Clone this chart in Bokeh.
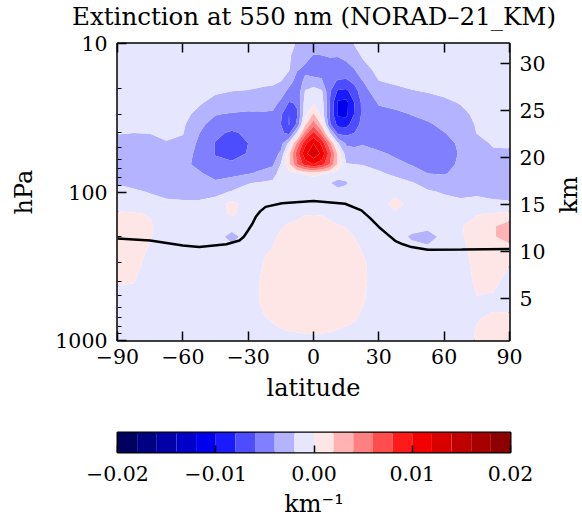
import math
import numpy as np
from bokeh.plotting import figure
from bokeh.models import Range1d, LinearScale, LinearAxis, FixedTicker, PrintfTickFormatter
from bokeh.core.properties import value
from bokeh.layouts import column, row
from bokeh.embed import file_html
from bokeh.resources import INLINE

# ---------------- data ----------------
lat = [-90, -82.5, -75, -67.5, -60, -52.5, -45, -37.5, -30, -22.5, -18.75, -15, -11.25,
       -7.5, -3.75, 0, 3.75, 7.5, 11.25, 15, 18.75, 22.5, 30, 37.5, 45, 52.5, 60, 67.5,
       75, 82.5, 90]
plev = [10, 12, 15, 18, 21, 25, 30, 35, 40, 47, 55, 65, 75, 87, 100, 120, 140, 170, 200,
        250, 300, 400, 550, 700, 850, 1000]

# extinction anomaly profiles (1e-3 km^-1), one list per latitude, top (10 hPa) to bottom (1000 hPa)
ext_profiles = [
    [-1.0, -1.0, -1.0, -1.1, -1.2, -1.3, -1.5, -1.8, -1.9, -2.6, -3.0, -3.1, -2.8, -2.1, -1.5, -0.6, 0.2, 0.6, 0.7, 0.6, 0.5, 0.1, -0.5, -0.7, -0.8, -0.8],
    [-1.0, -1.0, -1.0, -1.1, -1.2, -1.3, -1.5, -1.8, -2.0, -2.7, -3.1, -3.2, -3.0, -2.5, -1.7, -0.7, 0.1, 0.6, 0.7, 0.6, 0.4, 0.05, -0.5, -0.7, -0.8, -0.8],
    [-1.0, -1.0, -1.0, -1.1, -1.2, -1.3, -1.5, -1.8, -1.95, -2.6, -3.1, -3.3, -3.2, -2.8, -2.1, -1.2, -0.1, 0.2, 0.1, -0.2, -0.4, -0.6, -0.7, -0.8, -0.8, -0.8],
    [-1.0, -1.0, -1.0, -1.1, -1.2, -1.3, -1.5, -1.7, -1.85, -2.05, -2.8, -3.3, -3.3, -3.0, -2.5, -1.6, -1.0, -0.8, -0.8, -0.8, -0.8, -0.8, -0.8, -0.8, -0.8, -0.8],
    [-1.0, -1.0, -1.0, -1.1, -1.2, -1.3, -1.5, -1.7, -1.9, -2.4, -3.0, -3.6, -3.6, -3.3, -2.6, -1.7, -1.1, -0.9, -0.8, -0.8, -0.8, -0.8, -0.8, -0.8, -0.8, -0.8],
    [-1.0, -1.0, -1.0, -1.1, -1.3, -1.8, -2.5, -3.5, -3.95, -4.4, -4.6, -4.4, -3.8, -3.2, -2.6, -1.7, -1.1, -0.9, -0.9, -0.8, -0.8, -0.8, -0.8, -0.8, -0.8, -0.8],
    [-1.0, -1.0, -1.1, -1.4, -1.8, -2.5, -3.9, -4.8, -5.6, -6.1, -6.1, -5.6, -4.6, -3.7, -2.6, -1.0, -0.9, -1.0, -1.0, -0.9, -0.8, -0.8, -0.8, -0.8, -0.8, -0.8],
    [-1.0, -1.0, -1.2, -1.6, -2.0, -2.8, -4.2, -5.2, -6.3, -7.3, -7.2, -5.4, -4.5, -3.1, -1.8, 0.6, 0.3, -1.2, -2.8, -1.0, -0.9, -0.8, -0.8, -0.8, -0.8, -0.8],
    [-1.0, -1.1, -1.3, -1.7, -2.05, -3.0, -4.4, -5.0, -5.6, -6.0, -5.8, -5.0, -4.1, -2.1, -1.2, -0.9, -0.9, -1.0, -1.0, -0.9, -0.8, -0.7, -0.7, -0.7, -0.7, -0.7],
    [-1.0, -1.1, -1.3, -1.8, -2.2, -3.1, -4.3, -4.8, -5.1, -5.2, -4.9, -4.4, -3.6, -1.7, -1.1, -0.9, -0.8, -0.6, -0.4, -0.15, 0.1, 0.3, 0.3, -0.05, -0.4, -0.6],
    [-1.0, -1.1, -1.3, -1.8, -2.3, -3.2, -4.4, -4.9, -5.2, -5.3, -5.0, -4.3, -3.0, -1.5, -0.9, -0.7, -0.6, -0.4, -0.2, 0.1, 0.4, 0.6, 0.5, 0.15, -0.2, -0.4],
    [-1.0, -1.1, -1.4, -2.0, -3.0, -4.4, -5.7, -6.0, -5.6, -4.8, -3.6, -1.9, -1.0, -0.8, -0.7, -0.6, -0.4, -0.1, 0.2, 0.5, 0.7, 0.8, 0.7, 0.35, -0.05, -0.3],
    [-1.3, -1.6, -1.85, -3.2, -4.6, -6.1, -8.0, -8.1, -6.6, -1.5, 1.5, 1.5, -0.6, -0.9, -0.8, -0.6, -0.4, 0.15, 0.5, 0.8, 0.9, 1.0, 0.9, 0.5, 0.05, -0.4],
    [-2.2, -3.2, -3.9, -4.8, -5.4, -5.9, -6.1, -5.6, -1.5, 4.5, 7.0, 6.0, -0.3, -1.0, -0.8, -0.6, -0.3, 0.3, 0.7, 0.9, 1.0, 1.1, 1.0, 0.8, 0.1, -0.35],
    [-2.5, -3.6, -4.3, -3.6, -1.8, -1.0, -0.6, 1.5, 5.0, 9.5, 11.5, 9.0, 0.2, -1.0, -0.8, -0.6, -0.05, 0.5, 1.0, 1.1, 1.2, 1.2, 1.1, 0.9, 0.15, -0.3],
    [-3.2, -4.05, -4.4, -3.7, -0.6, -0.3, 2.2, 5.2, 8.5, 12.0, 13.5, 10.0, 0.5, -1.0, -0.7, -0.5, -0.1, 0.5, 1.1, 1.2, 1.3, 1.3, 1.2, 0.8, 0.2, -0.3],
    [-3.0, -4.0, -4.5, -3.8, -1.7, -1.0, -0.6, 1.5, 5.0, 9.5, 11.5, 9.0, 0.2, -1.2, -0.9, -0.6, -0.05, 0.5, 0.9, 1.1, 1.2, 1.2, 1.1, 0.8, 0.15, -0.3],
    [-2.8, -3.9, -4.6, -5.4, -5.8, -6.0, -6.1, -5.8, -1.8, 4.5, 7.0, 6.0, -0.3, -1.9, -1.1, -0.7, -0.3, 0.3, 0.7, 0.9, 1.0, 1.1, 1.0, 0.7, 0.1, -0.35],
    [-2.8, -3.9, -4.8, -6.2, -8.3, -10.4, -10.4, -8.6, -6.5, -1.8, 1.5, 1.5, -0.9, -2.7, -1.3, -0.8, -0.5, 0.1, 0.5, 0.8, 0.9, 1.0, 0.9, 0.5, -0.05, -0.4],
    [-2.3, -3.5, -4.8, -6.4, -8.5, -10.6, -10.5, -8.7, -6.6, -4.3, -3.0, -1.9, -1.2, -2.2, -1.2, -0.9, -0.6, -0.05, 0.35, 0.6, 0.75, 0.8, 0.7, 0.35, -0.15, -0.5],
    [-1.9, -2.6, -4.1, -5.6, -6.9, -8.0, -7.9, -7.0, -6.0, -4.4, -3.3, -2.0, -1.3, -1.2, -1.0, -0.9, -0.7, -0.3, 0.0, 0.45, 0.6, 0.6, 0.5, 0.15, -0.3, -0.6],
    [-1.3, -1.8, -2.7, -4.1, -4.9, -5.5, -5.6, -5.4, -5.1, -4.1, -3.5, -2.05, -1.4, -1.1, -1.0, -0.9, -0.8, -0.6, -0.4, -0.05, 0.2, 0.25, 0.1, -0.2, -0.5, -0.7],
    [-1.0, -1.1, -1.5, -2.05, -2.8, -3.8, -4.7, -5.1, -5.2, -4.7, -3.7, -2.6, -1.7, -1.2, -1.0, -0.9, -0.9, -0.9, -0.8, -0.7, -0.6, -0.6, -0.6, -0.7, -0.8, -0.9],
    [-1.0, -1.0, -1.3, -1.8, -2.4, -3.5, -4.4, -4.9, -5.1, -4.9, -4.3, -3.5, -2.4, -1.2, -0.5, 0.7, -0.3, -0.9, -1.0, -0.9, -0.8, -0.7, -0.7, -0.8, -0.8, -0.9],
    [-1.0, -1.0, -1.2, -1.6, -2.1, -3.1, -3.95, -4.6, -4.9, -4.9, -4.6, -4.1, -3.1, -1.8, -1.1, -0.6, -0.9, -1.3, -2.3, -1.0, -0.8, -0.7, -0.7, -0.8, -0.8, -0.9],
    [-1.0, -1.0, -1.1, -1.5, -1.9, -2.8, -3.6, -4.2, -4.6, -4.8, -4.8, -4.5, -4.0, -2.8, -1.7, -1.0, -1.0, -1.5, -2.8, -1.3, -0.9, -0.8, -0.8, -0.8, -0.8, -0.8],
    [-1.0, -1.0, -1.1, -1.4, -1.7, -2.3, -3.0, -3.6, -4.05, -4.4, -4.5, -4.4, -4.1, -3.3, -2.2, -1.2, -1.0, -1.1, -1.4, -1.0, -0.9, -0.8, -0.8, -0.8, -0.8, -0.8],
    [-1.0, -1.0, -1.0, -1.2, -1.5, -1.9, -2.5, -3.1, -3.5, -3.8, -3.9, -3.8, -3.6, -3.1, -2.5, -1.5, -0.6, -0.1, -0.2, -0.4, -0.5, -0.6, -0.7, -0.8, -0.8, -0.8],
    [-1.0, -1.0, -1.0, -1.1, -1.2, -1.4, -1.6, -1.8, -1.95, -2.6, -3.0, -3.1, -3.0, -2.7, -2.4, -1.2, -0.1, 0.6, 0.7, 0.5, 0.4, 0.2, -0.1, -0.1, 0.1, 0.15],
    [-1.0, -1.0, -1.0, -1.0, -1.1, -1.2, -1.3, -1.5, -1.6, -1.8, -2.3, -2.8, -3.0, -2.9, -2.6, -1.6, 0.1, 1.8, 1.8, 0.7, 0.5, 0.3, -0.3, 0.2, 0.5, 0.5],
    [-1.0, -1.0, -1.0, -1.0, -1.1, -1.2, -1.3, -1.5, -1.6, -1.8, -2.2, -2.7, -2.9, -2.8, -2.5, -1.8, 0.6, 3.0, 2.9, 0.8, 0.05, -0.4, -0.4, 0.2, 0.6, 0.7],
]

# tropopause (black line)
trop_lat = [-90, -75, -60, -52.5, -40, -34, -32, -30, -28, -26.5, -24.5, -22, -14.5, 0, 14.5,
            22, 26, 30, 34, 37.5, 41, 45, 52.5, 68, 90]
trop_p = [206, 212, 229, 235, 225, 212, 200, 181, 163, 147, 135, 126, 119, 115, 120,
          133, 150, 172, 193, 213, 225, 235, 245, 244, 242]

# contour levels (1e-3 km^-1) and colours (seismic, 20 bins)
levels = list(range(-20, 21, 2))
palette = ["#00005e", "#000082", "#0000a6", "#0000c9", "#0000ed",
           "#1a1aff", "#4d4dff", "#8080ff", "#b3b3ff", "#e6e6ff",
           "#ffe6e6", "#ffb3b3", "#ff8080", "#ff4d4d", "#ff1a1a",
           "#f20000", "#d90000", "#bf0000", "#a60000", "#8c0000"]

lat_ticks = [-90, -60, -30, 0, 30, 60, 90]
lat_labels = ["−90", "−60", "−30", "0", "30", "60", "90"]
p_ticks = [10, 100, 1000]
p_minor = [20, 30, 40, 50, 60, 70, 80, 90, 200, 300, 400, 500, 600, 700, 800, 900]
km_ticks = [5, 10, 15, 20, 25, 30]
km_range = (0.54, 32.1)
cb_ticks = [-20, -10, 0, 10, 20]
cb_labels = ["−0.02", "−0.01", "0.00", "0.01", "0.02"]
title_text = "Extinction at 550 nm (NORAD–21_KM)"

FONT = "DejaVu Serif"
TICK_FS = "20.5px"
LABEL_FS = "24px"

# ---------------- title strip (its frame is aligned with the main frame) ----------------
tf = figure(width=582, height=30, title=title_text, output_backend="svg",
            toolbar_location=None, x_axis_location=None, y_axis_location=None, min_border=0)
tf.title.text_font = FONT
tf.title.text_font_size = "24.5px"
tf.title.text_font_style = "normal"
tf.title.text_color = "black"
tf.title.align = "center"
tf.title.standoff = 0
tf.grid.visible = False
tf.outline_line_color = None
tf.background_fill_color = None
tf.border_fill_color = None

# ---------------- main figure ----------------
p = figure(width=548, height=385, x_range=Range1d(-90, 90), y_range=Range1d(1000, 10),
           y_axis_type="log", output_backend="svg", toolbar_location=None,
           min_border_left=117, min_border_right=38, min_border_top=13, min_border_bottom=75)
p.grid.visible = False
p.outline_line_color = "black"
p.outline_line_width = 2.5
p.background_fill_color = "white"

Z = np.array(ext_profiles).T
p.contour(lat, plev, Z, levels, fill_color=palette, line_color=None)
p.line(trop_lat, trop_p, line_color="black", line_width=2.5)

def style_axis(ax):
    ax.axis_line_color = None
    ax.major_tick_in = 9
    ax.major_tick_out = 0
    ax.minor_tick_in = 4
    ax.minor_tick_out = 0
    ax.major_tick_line_width = 1.5
    ax.minor_tick_line_width = 1.2
    ax.major_label_text_font = FONT
    ax.major_label_text_font_size = TICK_FS
    ax.major_label_text_color = "black"
    ax.axis_label_text_font = FONT
    ax.axis_label_text_font_size = LABEL_FS
    ax.axis_label_text_font_style = "normal"
    ax.axis_label_text_color = "black"

xa = p.xaxis[0]
xa.ticker = FixedTicker(ticks=lat_ticks)
xa.major_label_overrides = dict(zip(lat_ticks, lat_labels))
xa.axis_label = "latitude"
style_axis(xa)
xa.major_label_standoff = 8
xa.axis_label_standoff = 7

ya = p.yaxis[0]
ya.ticker = FixedTicker(ticks=p_ticks, minor_ticks=p_minor)
ya.formatter = PrintfTickFormatter(format="%d")
ya.axis_label = "hPa"
style_axis(ya)
ya.major_label_standoff = 10
ya.axis_label_standoff = 14

p.extra_y_ranges = {"km": Range1d(*km_range)}
p.extra_y_scales = {"km": LinearScale()}
ra = LinearAxis(y_range_name="km", ticker=FixedTicker(ticks=km_ticks))
style_axis(ra)
ra.minor_tick_line_color = None
ra.major_label_standoff = 10
p.add_layout(ra, "right")

# top spine ticks (no labels drawn)
ta = LinearAxis(ticker=FixedTicker(ticks=lat_ticks))
style_axis(ta)
ta.major_label_text_color = None
ta.major_label_text_font_size = "1px"
ta.major_label_standoff = 0
p.add_layout(ta, "above")

# narrow strip to the right holding the "km" axis title (reads bottom-to-top)
kf = figure(width=34, height=385, x_range=Range1d(0, 1), y_range=Range1d(0, 1),
            output_backend="svg", toolbar_location=None,
            x_axis_location=None, y_axis_location=None, min_border=0)
kf.grid.visible = False
kf.outline_line_color = None
kf.background_fill_color = None
kf.border_fill_color = None
kf.text(x=[0.6], y=[0.49], text=["km"], angle=math.pi / 2, text_align="center",
        text_baseline="middle", text_font=value(FONT), text_font_size=LABEL_FS,
        text_color="black")

# ---------------- colour bar ----------------
cb = figure(width=582, height=109, x_range=Range1d(levels[0], levels[-1]), y_range=Range1d(0, 1),
            output_backend="svg", toolbar_location=None,
            min_border_left=117, min_border_right=72, min_border_top=17, min_border_bottom=72)
cb.grid.visible = False
cb.yaxis.visible = False
cb.outline_line_color = "black"
cb.outline_line_width = 2
cb.quad(left=levels[:-1], right=levels[1:], bottom=0, top=1, fill_color=palette, line_color=None)
ca = cb.xaxis[0]
ca.ticker = FixedTicker(ticks=cb_ticks)
ca.major_label_overrides = dict(zip(cb_ticks, cb_labels))
ca.axis_label = "km⁻¹"
style_axis(ca)
ca.major_tick_in = 7
ca.major_label_standoff = 13
ca.axis_label_standoff = 6

layout = column(tf, row(p, kf), cb)
open("out.html", "w").write(file_html(layout, INLINE))
